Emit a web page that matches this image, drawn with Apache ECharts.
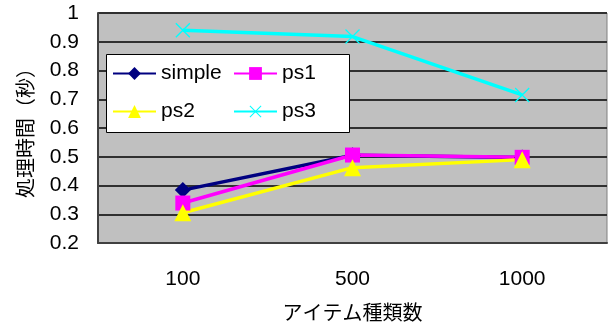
<!DOCTYPE html>
<html><head><meta charset="utf-8">
<script src="https://cdn.jsdelivr.net/npm/echarts@6/dist/echarts.min.js"></script>
<style>html,body{margin:0;padding:0;background:#fff}#c{width:610px;height:330px}</style>
</head><body><div id="c"></div>
<script>
const categories = ['100', '500', '1000'];
const simple = [0.384, 0.505, 0.497];
const ps1 = [0.339, 0.506, 0.498];
const ps2 = [0.305, 0.462, 0.49];
const ps3 = [0.94, 0.918, 0.715];
const yTicks = [0.2, 0.3, 0.4, 0.5, 0.6, 0.7, 0.8, 0.9, 1];

const font = 'Liberation Sans, Arial, sans-serif';
const cjk = 'Noto Sans CJK JP';
const chart = echarts.init(document.getElementById('c'), null, {renderer: 'canvas'});
const xIcon = 'image://data:image/svg+xml;utf8,' + encodeURIComponent('<svg xmlns="http://www.w3.org/2000/svg" width="16" height="16"><path d="M1 1L15 15M15 1L1 15" stroke="#00ffff" stroke-width="1.3"/></svg>');
function ser(name, data, color, symbol, size) {
  return {name, type: 'line', data, symbol, symbolSize: size, z: 3,
    lineStyle: {color, width: 3.5}, itemStyle: {color}, animation: false};
}
function leg(name, left, top) {
  return {left, top, z: 10, itemWidth: 43, itemHeight: 16, itemGap: 0,
    textStyle: {fontFamily: font, fontSize: 21, color: '#000'}, padding: 0,
    data: [{name}]};
}
chart.setOption({
  animation: false,
  grid: {left: 98, right: 3, top: 13, bottom: 87, show: true, backgroundColor: '#c0c0c0', borderColor: '#808080', borderWidth: 1},
  graphic: [{type: 'rect', left: 106, top: 54, z: 9, shape: {width: 243, height: 78},
    style: {fill: '#fff', stroke: '#000', lineWidth: 1}}],
  legend: [leg('simple', 112, 63), leg('ps1', 233, 63), leg('ps2', 112, 101), leg('ps3', 233, 101)],
  xAxis: {
    type: 'category', data: categories, boundaryGap: true,
    name: 'アイテム種類数', nameLocation: 'middle', nameGap: 59,
    nameTextStyle: {fontFamily: cjk, fontSize: 20, color: '#000'},
    axisLine: {lineStyle: {color: '#404040', width: 2}},
    axisTick: {inside: true, length: 6, lineStyle: {color: '#404040', width: 2}},
    axisLabel: {fontFamily: font, fontSize: 21, color: '#000', margin: 26},
    splitLine: {show: false}
  },
  yAxis: {
    type: 'value', min: 0.2, max: 1, interval: 0.1,
    name: '処理時間（秒）', nameLocation: 'middle', nameGap: 63, nameRotate: 90,
    nameTextStyle: {fontFamily: cjk, fontSize: 20, color: '#000'},
    axisLine: {show: true, lineStyle: {color: '#404040', width: 2}},
    axisTick: {show: false},
    axisLabel: {fontFamily: font, fontSize: 21, color: '#000', margin: 19,
      formatter: v => { const t = yTicks.find(x => Math.abs(x - v) < 1e-6); return t === undefined ? '' : String(t); }},
    splitLine: {lineStyle: {color: '#303030', width: 2}}
  },
  series: [
    ser('simple', simple, '#000080', 'diamond', 16),
    ser('ps1', ps1, '#ff00ff', 'rect', 15),
    ser('ps2', ps2, '#ffff00', 'triangle', 17),
    ser('ps3', ps3, '#00ffff', xIcon, 16)
  ]
});
</script></body></html>
